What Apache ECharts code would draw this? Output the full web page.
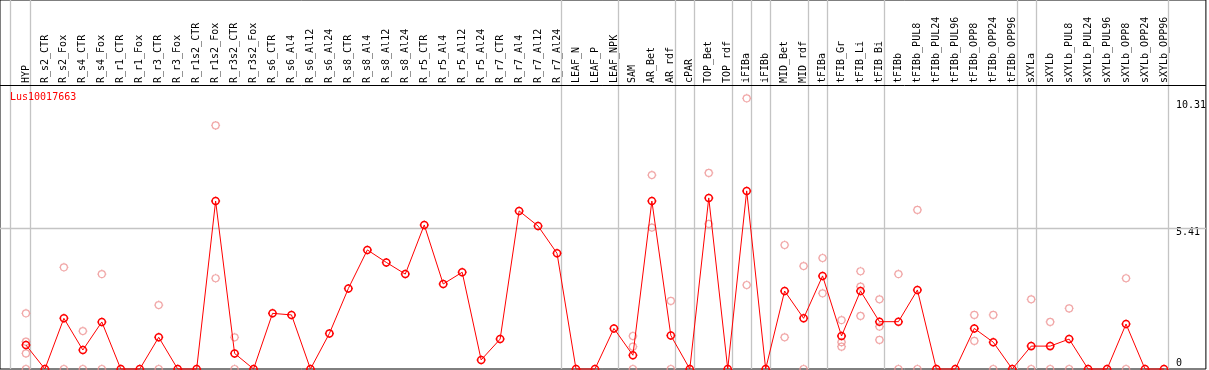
<!DOCTYPE html>
<html>
<head>
<meta charset="utf-8">
<script src="https://cdn.jsdelivr.net/npm/echarts@6/dist/echarts.min.js"></script>
<style>
html,body{margin:0;padding:0;background:#fff;}
#chart{width:1209px;height:370px;}
</style>
</head>
<body>
<div id="chart"></div>
<script>
// ---------- data ----------
const title = 'Lus10017663';
const categories = ['HYP','R_s2_CTR','R_s2_Fox','R_s4_CTR','R_s4_Fox','R_r1_CTR','R_r1_Fox','R_r3_CTR','R_r3_Fox','R_r1s2_CTR','R_r1s2_Fox','R_r3s2_CTR','R_r3s2_Fox','R_s6_CTR','R_s6_Al4','R_s6_Al12','R_s6_Al24','R_s8_CTR','R_s8_Al4','R_s8_Al12','R_s8_Al24','R_r5_CTR','R_r5_Al4','R_r5_Al12','R_r5_Al24','R_r7_CTR','R_r7_Al4','R_r7_Al12','R_r7_Al24','LEAF_N','LEAF_P','LEAF_NPK','SAM','AR_Bet','AR_rdf','cPAR','TOP_Bet','TOP_rdf','iFIBa','iFIBb','MID_Bet','MID_rdf','tFIBa','tFIB_Gr','tFIB_Li','tFIB_Bi','tFIBb','tFIBb_PUL8','tFIBb_PUL24','tFIBb_PUL96','tFIBb_OPP8','tFIBb_OPP24','tFIBb_OPP96','sXYLa','sXYLb','sXYLb_PUL8','sXYLb_PUL24','sXYLb_PUL96','sXYLb_OPP8','sXYLb_OPP24','sXYLb_OPP96'];
const means = [0.92,0,1.95,0.73,1.81,0,0,1.22,0,0,6.46,0.60,0,2.14,2.08,0,1.37,3.10,4.58,4.10,3.65,5.54,3.27,3.72,0.35,1.15,6.08,5.50,4.45,0,0,1.56,0.53,6.46,1.29,0,6.58,0,6.85,0,3.00,1.95,3.58,1.27,3.00,1.82,1.82,3.04,0,0,1.56,1.03,0,0.88,0.88,1.15,0,0,1.73,0,0];
const replicates = [
  [2.14,1.05,0.60,0],[],[3.91,0],[1.46,0],[3.65,0],[],[],[2.46,0],[],[],[9.37,3.49],[1.22,0],[],
  [],[],[],[],[],[],[],[],[],[],[],[],[],[],[],[],
  [],[],[],[1.27,0.86,0],[7.46,5.44],[2.62,0],[],[7.54,5.58],[],[10.41,3.23],[],[4.77,1.22],[3.96,0],
  [4.27,2.91],[1.88,1.03,0.86],[3.76,3.17,2.04],[2.68,1.63,1.12],[3.65,0],[6.12,0],[],[],[2.08,1.08],[2.08,0],[],
  [2.68,0],[1.81,0],[2.33,0],[],[],[3.49,0],[],[]
];
const yTicks = [0, 5.41, 10.31];
const yGridValues = [5.41];
// last category of each group (a separator follows it)
const groupLast = ['HYP','R_r7_Al24','LEAF_NPK','AR_rdf','cPAR','TOP_rdf','iFIBa','iFIBb','MID_rdf','tFIBa','tFIB_Bi','tFIBb_OPP96','sXYLa','sXYLb_OPP96'];

// ---------- styling / layout ----------
const FONT = 'DejaVu Sans Mono';
const X_MIN = -26/19, X_MAX = 1182/19;
const PLOT_H = 369;
const Y_MAX = PLOT_H/26;          // grid spans the whole frame; label band sits above y=85
const LABEL_BAND = 85;
const BAND_LINE_VALUE = Y_MAX * (PLOT_H - LABEL_BAND) / PLOT_H;
const SEP_OFFSET = 0.24, LEAD_SEP = -0.84;
const MARK = 'path://M2,9A7,7 0 1,0 16,9A7,7 0 1,0 2,9Z M9,0L9,2 M9,16L9,18 M0,9L2,9 M16,9L18,9';

const lineData = means.map((v, i) => [i, v]);
const repData = [];
replicates.forEach((arr, i) => arr.forEach(v => repData.push([i, v])));
const sepPositions = [LEAD_SEP].concat(groupLast.map(n => categories.indexOf(n) + SEP_OFFSET));

const chart = echarts.init(document.getElementById('chart'), null, {renderer: 'canvas'});
chart.setOption({
  animation: false,
  backgroundColor: '#fff',
  title: {
    text: title, left: 10, top: 92, padding: 0,
    textStyle: {color: '#ff0000', fontSize: 10, fontWeight: 'normal', fontFamily: FONT}
  },
  grid: {left: 0, right: 1, top: 0, bottom: 1, show: true, borderColor: '#000', borderWidth: 1, backgroundColor: 'transparent'},
  xAxis: {
    type: 'value', position: 'top', offset: -LABEL_BAND, min: X_MIN, max: X_MAX,
    axisLine: {show: false},
    axisTick: {show: false},
    splitLine: {show: false},
    axisLabel: {
      customValues: categories.map((_, i) => i),
      formatter: v => categories[Math.round(v)] || '',
      rotate: 90, margin: 2,
      fontSize: 10, fontFamily: FONT, color: '#000'
    }
  },
  yAxis: {
    type: 'value', position: 'right', min: 0, max: Y_MAX,
    axisLine: {show: false}, axisTick: {show: false}, splitLine: {show: false},
    axisLabel: {
      customValues: yTicks, inside: true, align: 'left', margin: 30,
      fontSize: 10, fontFamily: FONT, color: '#000',
      formatter: v => (v === 0 ? '{z|' + v + '}' : '{n|' + v + '}'),
      rich: {
        n: {padding: [9, 0, 0, 0], fontSize: 10, fontFamily: FONT, color: '#000'},
        z: {padding: [0, 0, 12, 0], fontSize: 10, fontFamily: FONT, color: '#000'}
      }
    }
  },
  series: [
    {
      type: 'scatter', data: repData, clip: false, z: 3,
      symbol: MARK, symbolSize: 9,
      itemStyle: {color: 'rgba(0,0,0,0)', borderColor: '#ee9292', borderWidth: 1.2},
      markLine: {
        silent: true, symbol: ['none', 'none'], label: {show: false}, animation: false, z: 1,
        lineStyle: {color: '#c4c4c4', type: 'solid', width: 1.3},
        data: sepPositions.map(x => ({xAxis: x}))
      }
    },
    {
      type: 'line', data: lineData, clip: false, z: 4,
      symbol: MARK, symbolSize: 9, showAllSymbol: true,
      lineStyle: {color: '#ff0000', width: 1},
      itemStyle: {color: 'rgba(0,0,0,0)', borderColor: '#ff0000', borderWidth: 1.5},
      markLine: {
        silent: true, symbol: ['none', 'none'], label: {show: false}, animation: false, z: 1,
        lineStyle: {color: '#c4c4c4', type: 'solid', width: 1.3},
        data: yGridValues.map(v => ({yAxis: v})).concat([
          {yAxis: BAND_LINE_VALUE, lineStyle: {color: '#000', width: 1, type: 'solid'}}
        ])
      }
    }
  ]
});
</script>
</body>
</html>
